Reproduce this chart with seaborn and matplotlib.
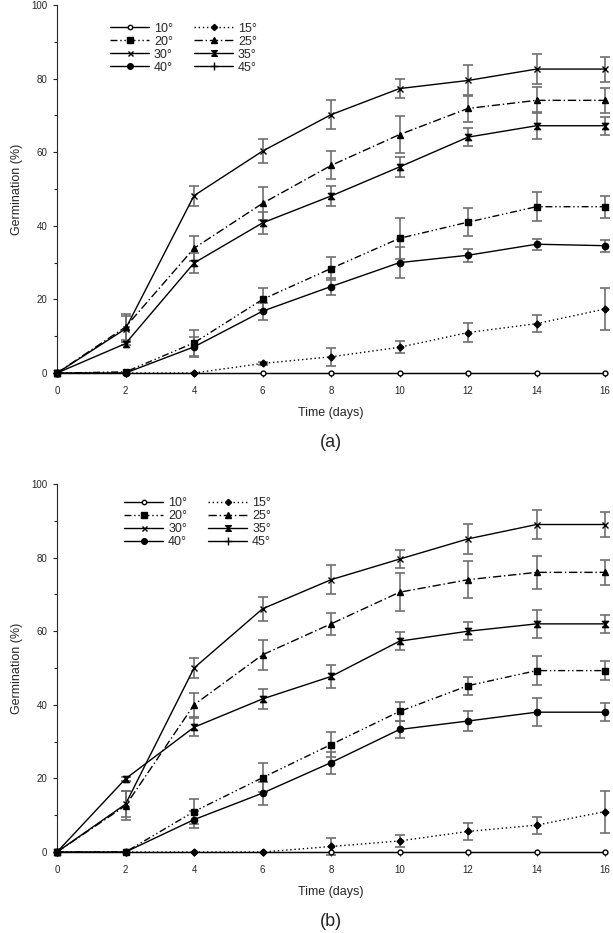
import numpy as np
import pandas as pd
import matplotlib
matplotlib.use("Agg")
import matplotlib.pyplot as plt
from matplotlib.lines import Line2D
import seaborn as sns

days = [0, 2, 4, 6, 8, 10, 12, 14, 16]
temps = ["10°", "15°", "20°", "25°", "30°", "35°", "40°", "45°"]

# panel (a) means and error half-widths
a10 = [0, 0, 0, 0, 0, 0, 0, 0, 0]
a15 = [0, 0, 0, 2.6, 4.4, 7.0, 11.0, 13.4, 17.4]
a20 = [0, 0.3, 8.2, 20.0, 28.4, 36.6, 41.0, 45.2, 45.2]
a25 = [0, 12.5, 33.9, 46.1, 56.4, 64.8, 71.9, 74.1, 74.1]
a30 = [0, 12.0, 48.2, 60.3, 70.2, 77.3, 79.5, 82.6, 82.6]
a35 = [0, 8.0, 29.9, 40.8, 48.1, 56.0, 64.1, 67.2, 67.2]
a40 = [0, 0, 7.1, 16.8, 23.5, 30.0, 32.0, 35.0, 34.6]
a15_err = [0, 0, 0, 0.5, 2.5, 1.6, 2.5, 2.3, 5.8]
a20_err = [0, 0, 3.5, 3.0, 3.0, 5.6, 3.9, 4.0, 3.0]
a25_err = [0, 3.5, 3.4, 4.5, 3.8, 5.0, 3.6, 3.5, 3.4]
a30_err = [0, 3.6, 2.7, 3.3, 4.0, 2.5, 4.2, 4.1, 3.4]
a35_err = [0, 0.5, 2.6, 3.0, 2.8, 2.6, 2.5, 3.7, 2.4]
a40_err = [0, 0, 2.8, 2.3, 2.2, 4.2, 1.7, 1.5, 1.6]

# panel (b)
b10 = [0, 0, 0, 0, 0, 0, 0, 0, 0]
b15 = [0, 0, 0, 0, 1.5, 3.0, 5.6, 7.3, 11.0]
b20 = [0, 0, 11.0, 20.2, 29.2, 38.2, 45.2, 49.3, 49.3]
b25 = [0, 12.6, 40.0, 53.6, 62.0, 70.6, 74.0, 76.0, 76.0]
b30 = [0, 13.0, 50.0, 66.1, 74.0, 79.6, 85.1, 89.0, 89.0]
b35 = [0, 19.9, 33.9, 41.6, 47.7, 57.3, 60.0, 62.0, 62.0]
b40 = [0, 0, 8.8, 16.0, 24.3, 33.3, 35.6, 38.0, 38.0]
b15_err = [0, 0, 0, 0, 2.3, 1.6, 2.3, 2.3, 5.7]
b20_err = [0, 0, 3.5, 3.9, 3.3, 2.6, 2.4, 3.9, 2.6]
b25_err = [0, 4.0, 3.2, 4.1, 2.9, 5.1, 5.1, 4.5, 3.4]
b30_err = [0, 3.6, 2.7, 3.2, 4.0, 2.4, 4.0, 4.0, 3.3]
b35_err = [0, 0.5, 2.4, 2.8, 3.0, 2.5, 2.5, 3.9, 2.5]
b40_err = [0, 0, 2.4, 3.1, 3.0, 2.4, 2.6, 3.8, 2.4]

panels = {
    "(a)": ([a10, a15, a20, a25, a30, a35, a40],
            [a15_err, a20_err, a25_err, a30_err, a35_err, a40_err]),
    "(b)": ([b10, b15, b20, b25, b30, b35, b40],
            [b15_err, b20_err, b25_err, b30_err, b35_err, b40_err]),
}

# hourglass shaped marker for 35°
hourglass = [(-1, -1), (1, -1), (-1, 1), (1, 1), (-1, -1)]

markers = {"10°": "o", "15°": "D", "20°": "s", "25°": "^",
           "30°": "x", "35°": hourglass, "40°": "o", "45°": "+"}
msizes = {"10°": 3.5, "15°": 3.5, "20°": 4.5, "25°": 5, "30°": 4,
          "35°": 4.5, "40°": 4.5, "45°": 6}
dashes = {"10°": (None, None), "15°": (1, 2), "20°": (5, 2, 1, 2, 1, 2),
          "25°": (6, 2, 1, 2), "30°": (None, None), "35°": (None, None),
          "40°": (None, None), "45°": (None, None)}

sns.set_style("ticks")
plt.rcParams["font.family"] = ["Liberation Sans", "DejaVu Sans"]

fig = plt.figure(figsize=(6.13, 9.33), dpi=100)
ax_a = fig.add_axes([0.093, 0.6002, 0.894, 0.3944])
ax_b = fig.add_axes([0.093, 0.0868, 0.894, 0.3944])

legend_pos = [(0.097, 0.952), (0.123, 0.965)]

for ax, (name, (means, errs)), leg_xy in zip([ax_a, ax_b], panels.items(), legend_pos):
    rows = []
    for t, vals in zip(temps[:7], means):
        for d, v in zip(days, vals):
            rows.append({"day": d, "temp": t, "germ": v})
    df = pd.DataFrame(rows)

    # error bars first (grey), lines on top
    for t, vals, e in zip(temps[1:7], means[1:], errs):
        sel = [i for i in range(len(days)) if e[i] > 0]
        ax.errorbar([days[i] for i in sel], [vals[i] for i in sel],
                    yerr=[e[i] for i in sel], fmt="none", ecolor="#707070",
                    elinewidth=1.2, capsize=3.5, capthick=1.2, zorder=2,
                    clip_on=False)

    for t in temps[:7]:
        sub = df[df["temp"] == t]
        fill = "white" if t == "10°" else "black"
        sns.lineplot(data=sub, x="day", y="germ", ax=ax, color="black",
                     linewidth=1, marker=markers[t], markersize=msizes[t],
                     markerfacecolor=fill, markeredgecolor="black",
                     markeredgewidth=1, legend=False, zorder=3, clip_on=False)
        line = ax.lines[-1]
        if dashes[t][0] is not None:
            line.set_dashes(dashes[t])

    handles = []
    for t in temps:
        h = Line2D([], [], color="black", linewidth=1, marker=markers[t],
                   markersize=msizes[t] * 0.9,
                   markerfacecolor="white" if t == "10°" else "black",
                   markeredgecolor="black")
        if dashes[t][0] is not None:
            h.set_dashes(dashes[t])
        handles.append(h)
    order = [0, 2, 4, 6, 1, 3, 5, 7]
    ax.legend([handles[i] for i in order], [temps[i] for i in order],
              ncol=2, frameon=False, loc="upper left",
              bbox_to_anchor=leg_xy, fontsize=9, handlelength=3.1,
              handletextpad=0.4, columnspacing=1.7, labelspacing=0.08,
              borderaxespad=0, borderpad=0)

    ax.set_xlim(0, 16)
    ax.set_ylim(0, 100)
    ax.set_xticks(days)
    ax.set_yticks([0, 20, 40, 60, 80, 100])
    ax.set_yticks([10, 30, 50, 70, 90], minor=True)
    ax.tick_params(axis="both", labelsize=7, length=3, width=0.8, direction="out")
    ax.tick_params(axis="x", pad=6)
    ax.tick_params(axis="y", pad=4)
    ax.tick_params(axis="y", which="minor", length=2.5, width=0.8)
    ax.set_xlabel("Time (days)", fontsize=9, labelpad=8)
    ax.set_ylabel("Germination (%)", fontsize=9, labelpad=6)
    sns.despine(ax=ax)
    for s in ["left", "bottom"]:
        ax.spines[s].set_linewidth(0.8)
    ax.text(0.5, -0.1875, name, transform=ax.transAxes, ha="center",
            va="center", fontsize=13)

fig.savefig("out.png", dpi=100)
